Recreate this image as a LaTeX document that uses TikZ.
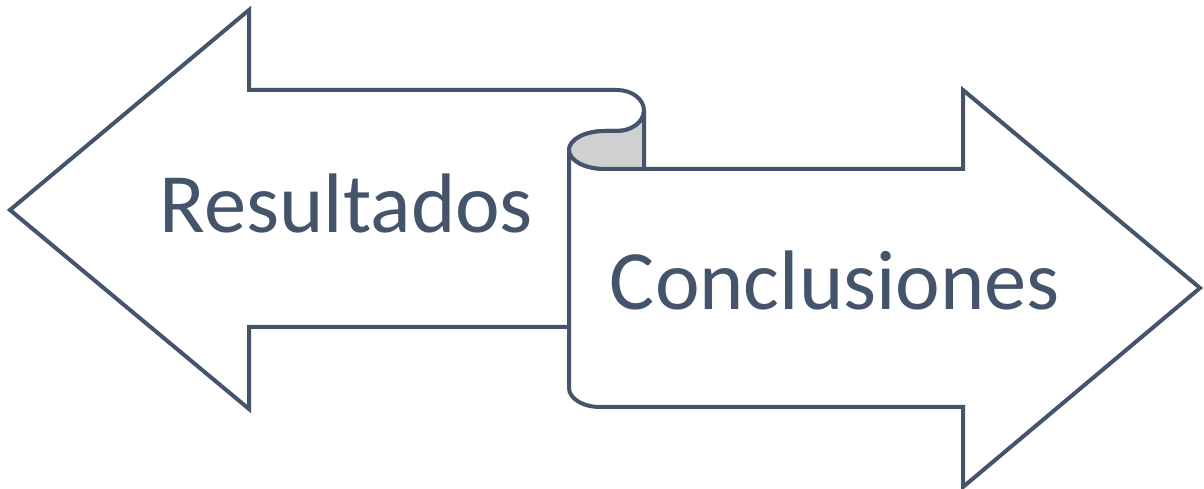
\documentclass[tikz,border=0pt]{standalone}
\usepackage{fontspec}
\setmainfont{Carlito}
\definecolor{slate}{HTML}{44546A}
\definecolor{curlgray}{HTML}{D0D0D0}
\begin{document}
\begin{tikzpicture}[x=1pt,y=1pt,
  shapeline/.style={draw=slate,line width=4pt,fill=white},
  label/.style={text=slate,font=\fontsize{84.5}{100}\selectfont,anchor=base,inner sep=0pt}]
\useasboundingbox[fill=white] (0,0) rectangle (1204,489);
% left arrow
\path[shapeline] (569,162) -- (249,162) -- (249,80) -- (10,279) -- (249,479) -- (249,399) -- (617,399)
  arc[start angle=90,end angle=-90,x radius=27,y radius=20.5] -- (605,358)
  arc[start angle=90,end angle=180,x radius=36,y radius=19];
% right arrow
\path[shapeline] (569,339) -- (569,101)
  arc[start angle=180,end angle=270,x radius=31,y radius=19] -- (963,82) -- (963,2) -- (1200,201) -- (963,399) -- (963,320) -- (605,320)
  arc[start angle=270,end angle=180,x radius=36,y radius=19] -- cycle;
% curl
\path[shapeline,fill=curlgray] (644,378.5)
  arc[start angle=0,end angle=-90,x radius=27,y radius=20.5] -- (605,358)
  arc[start angle=90,end angle=270,x radius=36,y radius=19] -- (644,320) -- cycle;
\node[label] (res) at (346.5,256) {Resultados};
\node[label] (con) at (835,179) {Conclusiones};
\end{tikzpicture}
\end{document}
